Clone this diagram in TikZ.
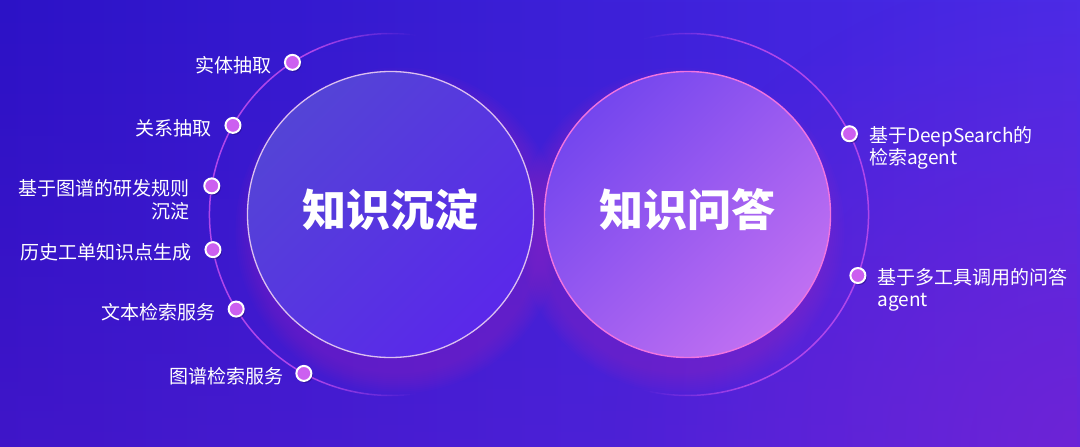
\documentclass[tikz,border=0pt]{standalone}
\usepackage{fontspec}
\setmainfont{Noto Sans CJK SC}
\usetikzlibrary{fadings,shadows}
\definecolor{bgL}{HTML}{2C12C6}
\definecolor{bgR}{HTML}{4A2CE8}
\definecolor{bgP}{HTML}{7A20D0}
\definecolor{lcA}{HTML}{5444D6}
\definecolor{lcB}{HTML}{5A28EA}
\definecolor{lcLine}{HTML}{DCC0F0}
\definecolor{rcA}{HTML}{7446EE}
\definecolor{rcB}{HTML}{C070F2}
\definecolor{rcLine}{HTML}{F274E0}
\definecolor{arcC}{HTML}{B046EA}
\definecolor{dotC}{HTML}{CC5FF0}
\definecolor{glowC}{HTML}{9A2CC8}
\definecolor{shadC}{HTML}{1A0860}
\tikzfading[name=cornerfade, inner color=transparent!35, outer color=transparent!100]
\newcommand\myfadearc[3]{%
  \foreach \k in {0,...,17}{%
    \pgfmathsetmacro\myaa{#2+(#3-#2)*\k/18}%
    \pgfmathsetmacro\myab{#2+(#3-#2)*(\k+1)/18}%
    \pgfmathsetmacro\myop{1-(\k+0.5)/18}%
    \draw[arcline, draw opacity=\myop] ([shift={(\myaa:181pt)}]#1) arc[start angle=\myaa, end angle=\myab, radius=181pt];
  }%
}
\begin{document}
\begin{tikzpicture}[x=1pt, y=-1pt,
  arcline/.style={draw=arcC, line width=1.5pt},
  bigcircle/.style={circle, minimum size=286pt, inner sep=0pt},
  titletext/.style={font=\fontsize{44}{48}\selectfont\bfseries, text=white, inner sep=0pt},
  mydot/.style={circle, fill=dotC, draw=white, line width=2pt, minimum size=15pt, inner sep=0pt,
    drop shadow={shadow xshift=1.5pt, shadow yshift=-2pt, opacity=0.4, fill=shadC}},
  lbl/.style={font=\fontsize{19}{22.3}\selectfont, text=white, inner sep=0pt}]
\useasboundingbox (0,0) rectangle (1080,447);
% background
\shade[left color=bgL, right color=bgR] (0,0) rectangle (1080,447);
\fill[bgP, fill opacity=0.25, path fading=north] (0,0) rectangle (1080,447);
\fill[bgP, path fading=cornerfade] (1080,447) circle[radius=480pt];
% centres
\coordinate (lcc) at (390.5,214.5);
\coordinate (rcc) at (687.5,214.5);
% glows (mostly below the circles)
\foreach \r in {143,145,...,163}{
  \fill[glowC, fill opacity=0.045] ([shift={(8pt,-16pt)}]lcc) circle[radius=\r pt];
  \fill[glowC, fill opacity=0.045] ([shift={(-6pt,-16pt)}]rcc) circle[radius=\r pt];
}
% outer arcs
\draw[arcline] ([shift={(115:181pt)}]lcc) arc[start angle=115, end angle=245, radius=181pt];
\myfadearc{lcc}{115}{82}
\myfadearc{lcc}{245}{278}
\draw[arcline] ([shift={(-70:181pt)}]rcc) arc[start angle=-70, end angle=70, radius=181pt];
\myfadearc{rcc}{70}{104}
\myfadearc{rcc}{-70}{-104}
% main circles
\node[bigcircle, draw=lcLine, line width=1.3pt, top color=lcA, bottom color=lcB, shading angle=45] (lc) at (lcc) {};
\node[bigcircle, draw=rcLine, line width=1.4pt, top color=rcA, bottom color=rcB, shading angle=45] (rc) at (rcc) {};
\node[titletext] (lt) at ([yshift=5pt]lc.center) {知识沉淀};
\node[titletext] (rt) at ([yshift=5pt]rc.center) {知识问答};
% dots left
\node[mydot] (d1) at ([shift={(122.8:181pt)}]lcc) {};
\node[mydot] (d2) at ([shift={(150.5:181pt)}]lcc) {};
\node[mydot] (d3) at ([shift={(170.9:181pt)}]lcc) {};
\node[mydot] (d4) at ([shift={(191.2:181pt)}]lcc) {};
\node[mydot] (d5) at ([shift={(211.5:181pt)}]lcc) {};
\node[mydot] (d6) at ([shift={(241.4:181pt)}]lcc) {};
% dots right
\node[mydot] (e1) at ([shift={(26.5:181pt)}]rcc) {};
\node[mydot] (e2) at ([shift={(-19.7:181pt)}]rcc) {};
% labels left
\node[lbl, anchor=east] (l1) at ([shift={(-21pt,-3pt)}]d1.center) {实体抽取};
\node[lbl, anchor=east] (l2) at ([shift={(-21pt,-3pt)}]d2.center) {关系抽取};
\node[lbl, anchor=east, align=right] (l3) at ([shift={(-22pt,-13.8pt)}]d3.center) {基于图谱的研发规则\\沉淀};
\node[lbl, anchor=east] (l4) at ([shift={(-21pt,-3pt)}]d4.center) {历史工单知识点生成};
\node[lbl, anchor=east] (l5) at ([shift={(-20pt,-3pt)}]d5.center) {文本检索服务};
\node[lbl, anchor=east] (l6) at ([shift={(-20pt,-3pt)}]d6.center) {图谱检索服务};
% labels right
\node[lbl, anchor=west, align=left] (r1) at ([shift={(19.5pt,-14pt)}]e1.center) {基于DeepSearch的\\检索agent};
\node[lbl, anchor=west, align=left] (r2) at ([shift={(19.5pt,-14pt)}]e2.center) {基于多工具调用的问答\\agent};
\end{tikzpicture}
\end{document}
